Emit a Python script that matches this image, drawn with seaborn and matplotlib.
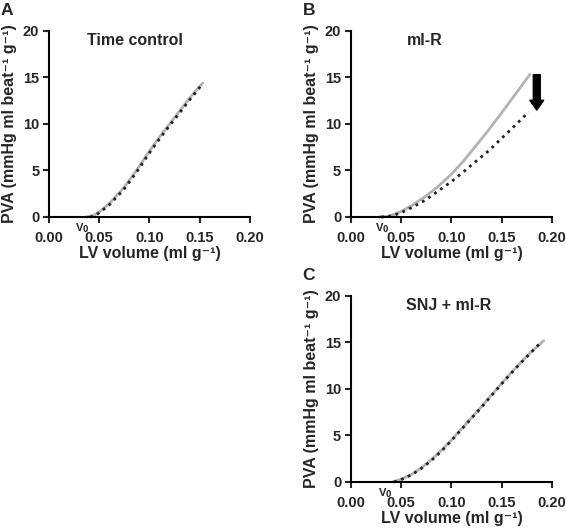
import numpy as np
import pandas as pd
import seaborn as sns
import matplotlib.pyplot as plt

# PVA-volume relations
# panel A - time control
a_base_x = [0.037, 0.045, 0.05, 0.06, 0.074, 0.087, 0.10, 0.11, 0.12, 0.13, 0.14, 0.153]
a_base_y = [0.0, 0.2, 0.55, 1.45, 3.1, 5.0, 7.1, 8.6, 10.0, 11.4, 12.8, 14.4]
a_post_x = [0.041, 0.045, 0.05, 0.06, 0.074, 0.087, 0.10, 0.11, 0.1205, 0.13, 0.14, 0.152]
a_post_y = [0.0, 0.12, 0.45, 1.3, 2.9, 4.8, 6.9, 8.4, 9.9, 11.2, 12.6, 14.2]

# panel B - ml-R
b_base_x = [0.028, 0.035, 0.04, 0.05, 0.06, 0.074, 0.087, 0.10, 0.112, 0.124, 0.137, 0.149, 0.163, 0.178]
b_base_y = [0.0, 0.05, 0.15, 0.6, 1.2, 2.2, 3.3, 4.6, 6.0, 7.6, 9.35, 11.05, 13.1, 15.3]
b_post_x = [0.03, 0.04, 0.05, 0.062, 0.074, 0.087, 0.10, 0.112, 0.124, 0.137, 0.149, 0.163, 0.177]
b_post_y = [0.0, 0.1, 0.45, 1.1, 1.8, 2.8, 3.8, 4.85, 5.95, 7.1, 8.35, 9.8, 11.3]

# panel C - SNJ + ml-R
c_base_x = [0.041, 0.05, 0.06, 0.07, 0.08, 0.09, 0.10, 0.11, 0.12, 0.13, 0.14, 0.15, 0.16, 0.17, 0.18, 0.192]
c_base_y = [0.0, 0.3, 0.8, 1.5, 2.4, 3.4, 4.5, 5.7, 6.9, 8.1, 9.35, 10.6, 11.8, 12.95, 14.05, 15.2]
c_post_x = [0.043, 0.05, 0.06, 0.07, 0.08, 0.09, 0.10, 0.11, 0.12, 0.13, 0.14, 0.15, 0.16, 0.17, 0.18, 0.19]
c_post_y = [0.0, 0.25, 0.75, 1.45, 2.3, 3.3, 4.45, 5.65, 6.85, 8.05, 9.3, 10.55, 11.75, 12.9, 14.0, 15.1]

titles = ['Time control', 'ml-R', 'SNJ + ml-R']
title_x = [0.086, 0.073, 0.097]
letters = ['A', 'B', 'C']
v0_x = [0.033, 0.031, 0.034]
xticks = [0.0, 0.05, 0.10, 0.15, 0.20]
yticks = [0, 5, 10, 15, 20]

sns.set_style('ticks')
plt.rcParams['font.family'] = ['Liberation Sans', 'DejaVu Sans']
plt.rcParams['font.weight'] = 'bold'
plt.rcParams['axes.labelweight'] = 'bold'

fig = plt.figure(figsize=(5.66, 5.30), dpi=100)
axA = fig.add_axes([0.0866, 0.5906, 0.355, 0.351])
axB = fig.add_axes([0.620, 0.5906, 0.355, 0.351])
axC = fig.add_axes([0.620, 0.0906, 0.355, 0.351])

curves = [(a_base_x, a_base_y, a_post_x, a_post_y),
          (b_base_x, b_base_y, b_post_x, b_post_y),
          (c_base_x, c_base_y, c_post_x, c_post_y)]

for i, ax in enumerate([axA, axB, axC]):
    bx, by, px, py = curves[i]
    sns.lineplot(x=bx, y=by, ax=ax, color='#b3b3b3', lw=2, clip_on=False)
    sns.lineplot(x=px, y=py, ax=ax, color='#222222', lw=2, ls=':', clip_on=False)
    ax.set_xlim(0, 0.2)
    ax.set_ylim(0, 20)
    ax.set_xticks(xticks)
    ax.set_xticklabels(['%.2f' % t for t in xticks])
    ax.set_yticks(yticks)
    ax.tick_params(axis='x', direction='out', length=4, width=1.5, labelsize=10.5, pad=6)
    ax.tick_params(axis='y', direction='out', length=4, width=1.5, labelsize=10.5, pad=3)
    for s in ['left', 'bottom']:
        ax.spines[s].set_linewidth(1.5)
        ax.spines[s].set_color('black')
    sns.despine(ax=ax)
    ax.set_xlabel('LV volume (ml g\u207b\u00b9)', fontsize=11.5, labelpad=1)
    ax.set_ylabel('PVA (mmHg ml beat\u207b\u00b9 g\u207b\u00b9)', fontsize=11.5, labelpad=4)
    ax.text(title_x[i], 19, titles[i], ha='center', va='center', fontsize=11.5, fontweight='bold')
    ax.text(v0_x[i], -0.4, 'V$_{\\mathbf{0}}$', ha='center', va='top', fontsize=8, fontweight='bold')
    ax.text(-0.24, 1.07, letters[i], transform=ax.transAxes, fontsize=12.5, fontweight='bold',
            ha='left', va='bottom')

axB.annotate('', xy=(0.185, 11.5), xytext=(0.185, 15.3),
             arrowprops=dict(arrowstyle='simple,head_width=1.0,head_length=0.7,tail_width=0.5',
                             color='black', shrinkA=0, shrinkB=0))

fig.savefig('out.png', dpi=100)
